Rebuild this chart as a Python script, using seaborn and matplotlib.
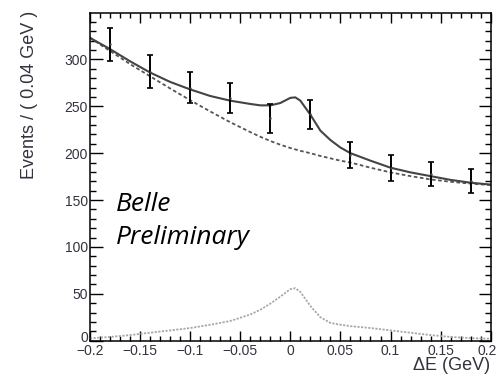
import numpy as np
import pandas as pd
import matplotlib
matplotlib.use("Agg")
import matplotlib.pyplot as plt
import matplotlib.transforms as mtransforms
import seaborn as sns
from matplotlib.ticker import MultipleLocator, FuncFormatter

# Binned data: bin centres (GeV), event counts and their errors
bin_centers = [-0.18, -0.14, -0.10, -0.06, -0.02, 0.02, 0.06, 0.10, 0.14, 0.18]
counts = [316, 287, 270, 259, 237, 241.5, 198, 184.5, 177.5, 170.6]
count_errors = [18, 18, 17, 16, 15, 15.5, 14, 14, 13, 13]

# Fit components sampled along Delta E
curve_x = [-0.20, -0.18, -0.16, -0.14, -0.12, -0.10, -0.08, -0.06, -0.04, -0.03,
           -0.02, -0.01, 0.00, 0.005, 0.01, 0.02, 0.03, 0.04, 0.05, 0.06,
           0.08, 0.10, 0.12, 0.14, 0.16, 0.18, 0.20]
total_fit = [323, 311, 298, 286, 276, 268, 261, 256, 252.5, 251,
             251, 253.5, 259, 259.5, 256, 241, 224, 214, 206, 200,
             192, 184.5, 179.5, 175.5, 171.5, 168.5, 166.5]
background_fit = [323, 309, 295, 282, 269, 256.5, 244.5, 233, 222.5, 217.5,
                  213, 209, 205.5, 204, 202.5, 200, 197, 194.5, 192, 190,
                  184.5, 179.5, 175.5, 172, 169.5, 167.5, 166]
signal_fit = [2.5, 4, 6, 8.5, 11, 13.5, 17, 21, 28, 33,
              39.5, 47, 55, 56, 52, 37, 25, 19, 17, 15.5,
              13.5, 11, 8.5, 6, 4, 2.8, 2]

x_label = "\u0394E (GeV)"
y_label = "Events / ( 0.04 GeV )"
annotation = ["Belle", "Preliminary"]

sns.set_theme(style="ticks")
plt.rcParams["font.family"] = ["Liberation Sans", "DejaVu Sans"]

fig = plt.figure(figsize=(4.98, 3.82), dpi=100)
ax = fig.add_axes([90 / 498, 41.3 / 382, 400.7 / 498, 327.7 / 382])

curves = pd.DataFrame({"x": curve_x, "total": total_fit,
                       "bkg": background_fit, "sig": signal_fit})

sns.lineplot(data=curves, x="x", y="sig", ax=ax, color="#a8a8a8",
             linewidth=1.3, linestyle=(0, (1.2, 0.8)))
sns.lineplot(data=curves, x="x", y="bkg", ax=ax, color="#555555",
             linewidth=1.3, linestyle=(0, (2.0, 1.4)))
sns.lineplot(data=curves, x="x", y="total", ax=ax, color="#444444",
             linewidth=1.5)

ax.errorbar(bin_centers, counts, yerr=count_errors, fmt="none",
            ecolor="black", elinewidth=1.4, capsize=2.2, capthick=1.2)
sns.scatterplot(x=bin_centers, y=counts, ax=ax, color="#444444", s=3,
                linewidth=0, zorder=5)

ax.set_xlim(-0.2, 0.2)
ax.set_ylim(0, 349.5)
ax.set_xlabel("")
ax.set_ylabel("")

ax.xaxis.set_major_locator(MultipleLocator(0.05))
ax.xaxis.set_minor_locator(MultipleLocator(0.01))
ax.yaxis.set_major_locator(MultipleLocator(50))
ax.yaxis.set_minor_locator(MultipleLocator(10))


def fmt_x(v, _):
    if abs(v) < 1e-9:
        return "0"
    s = f"{v:g}"
    return s.replace("-", "\u2212")


ax.xaxis.set_major_formatter(FuncFormatter(fmt_x))
ax.yaxis.set_major_formatter(FuncFormatter(lambda v, _: f"{v:g}"))

for s in ax.spines.values():
    s.set_visible(True)
    s.set_linewidth(1.1)
    s.set_color("black")

ax.tick_params(axis="both", which="both", direction="in", top=True,
               right=True, colors="black", labelcolor="#33333f",
               labelsize=10, width=1.0)
ax.tick_params(axis="x", which="major", length=7, pad=2.5)
ax.tick_params(axis="x", which="minor", length=3.5)
ax.tick_params(axis="y", which="major", length=9, pad=1.5)
ax.tick_params(axis="y", which="minor", length=4.5)

fig.canvas.draw()
# nudge the zero label of the y axis up and the last x label inward
for lbl in ax.get_yticklabels():
    if lbl.get_text() == "0":
        lbl.set_transform(lbl.get_transform() + mtransforms.ScaledTranslation(
            0, 4 / 100, fig.dpi_scale_trans))
for lbl in ax.get_xticklabels():
    if lbl.get_text() == "0.2":
        lbl.set_transform(lbl.get_transform() + mtransforms.ScaledTranslation(
            -3.5 / 100, 0, fig.dpi_scale_trans))

fig.text(30 / 498, 1 - 11 / 382, y_label, rotation=90, ha="center",
         va="top", fontsize=13, color="#33333f")
fig.text(490 / 498, 1 - 366 / 382, x_label, ha="right", va="center",
         fontsize=13, color="#33333f")

ax.text(116 / 498, 1 - 211 / 382, annotation[0], transform=fig.transFigure,
        fontsize=19, fontstyle="italic", family=["Open Sans", "DejaVu Sans"],
        color="black", va="baseline", ha="left")
ax.text(116 / 498, 1 - 243.5 / 382, annotation[1], transform=fig.transFigure,
        fontsize=19, fontstyle="italic", family=["Open Sans", "DejaVu Sans"],
        color="black", va="baseline", ha="left")

fig.savefig("out.png", dpi=100)
